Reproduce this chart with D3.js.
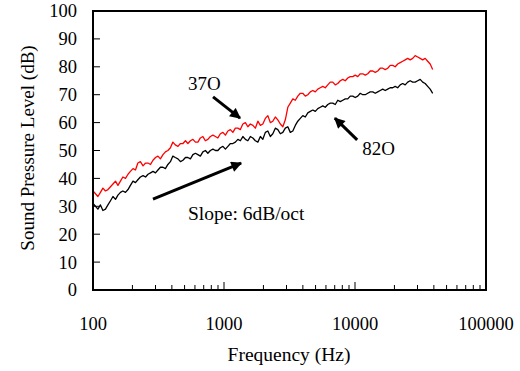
<!DOCTYPE html>
<html>
<head>
<meta charset="utf-8">
<script src="https://cdn.jsdelivr.net/npm/d3@7"></script>
<style>
  html, body { margin: 0; padding: 0; background: #fff; }
  svg { display: block; }
  text { font-family: "Liberation Serif", "Times New Roman", serif; fill: #000; }
</style>
</head>
<body>
<script>
// ---- data ----
const freqs = [
  100, 104.5, 109, 114, 119, 124.5, 130, 136, 142, 148.5, 155, 162, 169, 177, 185, 193, 202, 211, 220, 230,
  241, 252, 263, 275, 287, 300, 313, 327, 342, 357, 373, 390, 407, 425, 445, 465, 486, 508, 530, 554,
  579, 605, 632, 660, 690, 721, 753, 787, 823, 860, 898, 938, 981, 1025, 1071, 1119, 1169, 1221, 1276, 1333,
  1393, 1456, 1521, 1589, 1661, 1735, 1813, 1895, 1979, 2068, 2161, 2258, 2359, 2465, 2576, 2692, 2812, 2938, 3070, 3208,
  3352, 3502, 3659, 3823, 3995, 4174, 4362, 4558, 4762, 4976, 5199, 5432, 5676, 5931, 6197, 6475, 6766, 7070, 7387, 7718,
  8065, 8427, 8805, 9200, 9613, 10045, 10495, 10966, 11460, 11975, 12510, 13070, 13660, 14270, 14910, 15580, 16280, 17010, 17770, 18570,
  19400, 20270, 21180, 22130, 23130, 24160, 25250, 26380, 27570, 28800, 30100, 31450, 32860, 34330, 35880, 37480, 39170];
const spl37 = [
  35.5, 34.5, 33.5, 35, 36.5, 35.5, 36, 37, 38, 39, 37.5, 39, 40.5, 40, 41.5, 42.5, 43.5, 43, 45.5, 46,
  44.5, 45.5, 45.5, 45, 46.5, 47.5, 48, 47, 48.5, 49.5, 50, 51, 53, 52, 51.5, 52.5, 52.5, 53.5, 52.5, 53.5,
  54, 53, 53, 54.5, 55, 53.5, 54, 55, 55.5, 55, 54.5, 56, 56.5, 55.5, 57, 57.5, 56.5, 58, 58, 57.5,
  59.5, 60, 58.5, 59.5, 59, 58, 60.5, 59, 59.5, 61.5, 62.5, 60, 60.5, 62, 61, 59.5, 58.5, 61, 65.5, 67,
  68.5, 68, 69.5, 70.5, 70.5, 69.5, 70, 71, 71.5, 71, 72, 72.5, 73, 72.5, 73.5, 74.5, 74.5, 73.5, 74, 75,
  75.5, 75, 76, 76.5, 76.5, 77, 76.5, 77.5, 77.5, 77, 77.5, 78.5, 78.5, 78, 78.5, 79.5, 79.5, 79, 79.5, 80.5,
  80.5, 80, 81, 81.5, 82, 82.5, 83, 82.5, 83, 84, 83.5, 83, 82.5, 83, 82, 81, 79];
const spl82 = [
  31, 30, 29, 30.5, 28.5, 29, 30.5, 32, 33.5, 32.5, 34, 35, 35.5, 35, 36, 37.5, 39, 38.5, 39.5, 40.5,
  41, 40.5, 41.5, 42, 42.5, 42, 43, 44, 44, 43.5, 45, 46, 48, 47.5, 47, 46, 46.5, 47.5, 47.5, 47,
  48.5, 49, 48.5, 48, 49.5, 50, 49, 50, 50.5, 50, 50, 51, 51.5, 50.5, 51.5, 52.5, 52.5, 53, 54, 53.5,
  55, 54, 53.5, 55, 54.5, 53.5, 53, 55, 54, 56.5, 57, 55, 56, 58, 57.5, 56, 56.5, 58, 58.5, 56.5,
  57, 59, 60.5, 61.5, 62.5, 62, 63.5, 64, 64.5, 64, 65, 65.5, 66, 65.5, 66.5, 67, 67, 66.5, 68, 67.5,
  68, 68.5, 68.5, 69.5, 69.5, 69, 69.5, 70.5, 70, 70, 70.5, 71, 71, 70.5, 71, 71.5, 72, 71.5, 72, 72.5,
  72.5, 73, 72.5, 73.5, 74, 73.5, 74.5, 75, 74.5, 74.5, 75, 75.5, 74.5, 74, 73, 72, 70.5];
const xTickValues = [100, 1000, 10000, 100000];
const xTickLabels = ["100", "1000", "10000", "100000"];
const yTickValues = [0, 10, 20, 30, 40, 50, 60, 70, 80, 90, 100];
const seriesNames = ["37O", "82O"];
const seriesColors = ["#ff0000", "#000000"];
const xTitle = "Frequency (Hz)";
const yTitle = "Sound Pressure Level (dB)";
const slopeLabel = "Slope: 6dB/oct";
// annotations in data space: [fromFreq, fromDb, toFreq, toDb]
const arrow37 = [825, 69.2, 1325, 61.6];
const arrow82 = [10390, 53.8, 7020, 61.6];
const arrowSlope = [287, 32.6, 1350, 45.5];
const label37At = [531, 71.7];
const label82At = [11340, 48.4];
const slopeLabelAt = [531, 25.1];

// ---- layout ----
const W = 520, H = 371;
const M = { left: 93, right: 486, top: 11, bottom: 290 };

const svg = d3.select("body").append("svg").attr("width", W).attr("height", H);

const x = d3.scaleLog().domain([100, 100000]).range([M.left, M.right]);
const y = d3.scaleLinear().domain([0, 100]).range([M.bottom, M.top]);

// curves
const line = d3.line().x((d, i) => x(freqs[i])).y(d => y(d));
[spl37, spl82].forEach((s, i) => {
  svg.append("path").datum(s).attr("d", line)
    .attr("fill", "none").attr("stroke", seriesColors[i]).attr("stroke-width", 1.3)
    .attr("stroke-linejoin", "round");
});

// minor x ticks (inward)
const minor = [];
[100, 1000, 10000].forEach(dec => { for (let k = 2; k <= 9; k++) minor.push(dec * k); });
svg.append("g").selectAll("line").data(minor).join("line")
  .attr("x1", d => x(d)).attr("x2", d => x(d))
  .attr("y1", M.bottom).attr("y2", M.bottom - 5)
  .attr("stroke", "#000").attr("stroke-width", 1);
svg.append("g").selectAll("line").data(xTickValues).join("line")
  .attr("x1", d => x(d)).attr("x2", d => x(d))
  .attr("y1", M.bottom).attr("y2", M.bottom - 8)
  .attr("stroke", "#000").attr("stroke-width", 1);

// y ticks (inward)
svg.append("g").selectAll("line").data(yTickValues).join("line")
  .attr("x1", M.left).attr("x2", M.left + 7)
  .attr("y1", d => y(d)).attr("y2", d => y(d))
  .attr("stroke", "#000").attr("stroke-width", 1);

// frame
svg.append("rect").attr("x", M.left).attr("y", M.top)
  .attr("width", M.right - M.left).attr("height", M.bottom - M.top)
  .attr("fill", "none").attr("stroke", "#000").attr("stroke-width", 2);

// tick labels
svg.append("g").selectAll("text").data(yTickValues).join("text")
  .attr("x", 77).attr("y", d => y(d)).attr("dy", "0.35em")
  .attr("text-anchor", "end").attr("font-size", 18.5).text(d => d);
svg.append("g").selectAll("text").data(xTickValues).join("text")
  .attr("x", d => x(d)).attr("y", 330)
  .attr("text-anchor", "middle").attr("font-size", 18.5).text((d, i) => xTickLabels[i]);

// titles
svg.append("text").attr("x", 289).attr("y", 361).attr("text-anchor", "middle")
  .attr("font-size", 19.5).text(xTitle);
svg.append("text").attr("transform", "translate(34,148) rotate(-90)")
  .attr("text-anchor", "middle").attr("font-size", 19).text(yTitle);

// arrows
svg.append("defs").append("marker").attr("id", "ah")
  .attr("viewBox", "0 0 10 10").attr("refX", 9).attr("refY", 5)
  .attr("markerWidth", 4.2).attr("markerHeight", 3.6).attr("orient", "auto")
  .attr("markerUnits", "strokeWidth")
  .append("path").attr("d", "M0,0 L10,5 L0,10 Z").attr("fill", "#000");
[arrow37, arrow82, arrowSlope].forEach(a => {
  svg.append("line")
    .attr("x1", x(a[0])).attr("y1", y(a[1]))
    .attr("x2", x(a[2])).attr("y2", y(a[3]))
    .attr("stroke", "#000").attr("stroke-width", 3)
    .attr("marker-end", "url(#ah)");
});

// annotation labels
svg.append("text").attr("x", x(label37At[0])).attr("y", y(label37At[1]))
  .attr("font-size", 19).text(seriesNames[0]);
svg.append("text").attr("x", x(label82At[0])).attr("y", y(label82At[1]))
  .attr("font-size", 19).text(seriesNames[1]);
svg.append("text").attr("x", x(slopeLabelAt[0])).attr("y", y(slopeLabelAt[1]))
  .attr("font-size", 19.5).text(slopeLabel);
</script>
</body>
</html>
